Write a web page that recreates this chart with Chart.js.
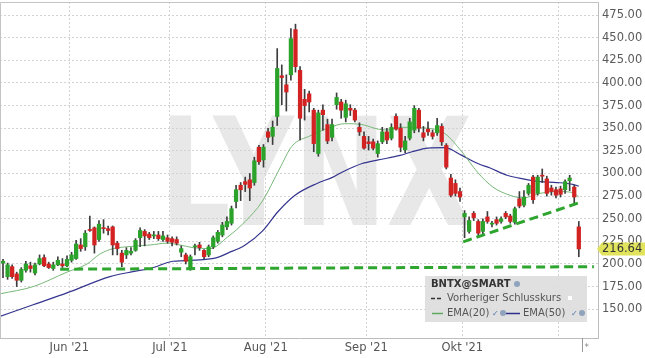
<!DOCTYPE html>
<html>
<head>
<meta charset="utf-8">
<title>BNTX@SMART</title>
<script src="https://cdn.jsdelivr.net/npm/chart.js@4.4.1/dist/chart.umd.min.js"></script>
<style>
    html, body { margin: 0; padding: 0; background: #fff; }
    #wrap { width: 645px; height: 358px; }
</style>
</head>
<body>
<div id="wrap"><canvas id="grafico" width="645" height="358"></canvas></div>
<script>
// Tageskerzen BNTX, Index 0 = 10.05.2021 ... 126 = 05.11.2021
const opens = [201,186,197,189,182,193,198,190,200,207,200,195,199,200,198,204,206,221,219,238,
    240,227,240,239,241,223,212,210,212,215,229,236,233,231,232,227,229,228,227,213,
    210,194,219,221,215,210,219,225,232,241,245,269,287,291,293,290,329,315,346,341,
    363,408,398,409,459,414,382,388,370,322,370,354,340,376,379,362,372,370,351,341,
    335,335,322,335,346,339,363,350,326,339,348,370,345,349,345,345,352,331,295,289,
    280,252,236,256,247,236,252,244,249,247,256,253,246,272,265,278,296,278,298,294,
    284,282,283,282,292,285,241];
const highs = [205,201,199,191,196,203,202,201,210,210,202,202,208,206,209,213,226,228,237,253,
    241,248,249,242,242,225,215,218,218,228,240,238,235,236,236,236,232,230,230,220,
    212,210,222,224,216,221,231,237,246,252,264,287,290,296,300,318,331,332,350,358,
    438,420,409,460,465,418,393,391,372,370,376,360,360,389,382,381,376,372,356,346,
    341,338,336,351,350,355,366,355,341,361,375,372,352,357,348,361,355,333,299,293,
    284,259,252,258,249,250,258,247,252,252,258,255,263,280,281,289,298,298,305,297,
    287,285,286,293,298,287,247];
const lows = [185,183,184,175,180,191,191,188,199,197,195,193,198,196,197,202,205,214,215,236,
    212,225,234,232,210,210,197,206,210,214,219,220,227,228,226,225,223,220,221,208,
    200,193,210,215,206,208,217,223,230,238,243,262,270,280,270,287,310,307,335,332,
    353,376,369,403,412,337,359,368,324,319,348,333,336,371,361,357,364,357,342,327,
    326,326,318,333,333,337,348,324,323,337,345,346,336,342,338,342,331,305,274,275,
    269,229,234,248,231,233,245,241,243,245,250,245,244,262,263,276,267,276,290,275,
    276,273,274,278,281,265,208];
const closes = [203,199,186,182,194,200,195,199,206,198,196,199,204,198,205,210,222,217,234,237,
    221,244,239,237,221,217,202,215,214,226,237,231,229,231.5,228,231,225,224,223,217,
    203,208,220,218,208,219,229,235,243,247,261,282,282,288,284,314,313,329,340,351,
    416,406,390,449,418,361,375,379,333,367,365,336,354,384,370,377,370,359,346,328,
    333,328,333,346,337,351,349,329,336,357,372,350,340,346,341,353,335,307,276,278,
    274,256,248,251,234,247,247,245,245,250,252,247,261,264,274,287,271,296,297,278,
    280,276,277,291,295,274,216.64];

// EMA-Linien (Kerzen-Index, Kurs)
const ema20Idx = [-0.66, 6.6, 14, 18.4, 21.2, 24.1, 27.1, 32.2, 35.9, 38.7, 41.6, 45.3, 49.2, 53, 56.7,
    60.6, 63.2, 67.4, 71.1, 74.8, 78.6, 82.1, 84.2, 86.9, 93, 96.7, 100.4, 103.9, 107.2, 110.9,
    113.8, 117.5, 121.2, 124.7, 126];
const ema20 = [167, 175, 191, 200, 211, 217, 219, 221, 223, 221, 218, 217, 230, 247, 269,
    306, 330, 342, 350, 355, 354, 349, 348, 351, 350, 344, 324, 301, 285, 276,
    273, 278, 280, 279, 274];
const ema50Idx = [-0.66, 6.6, 14, 23.4, 28.4, 32.2, 37.2, 43.1, 46.8, 49.2, 53, 56.7, 60.2, 63.9,
    68.7, 72.2, 74.4, 78.6, 82.1, 86.9, 89.5, 93, 96.7, 100.4, 103.9, 106.6, 110.3, 113.8,
    117.5, 121.2, 124.7, 126];
const ema50 = [142, 155, 168, 186, 191.5, 195, 203, 204.5, 207, 212, 221, 236, 258, 276,
    289, 296, 302, 311, 315, 320, 324, 328, 328.5, 320, 311, 306, 298, 294,
    291, 290, 288, 286];

// gezeichnete Unterstützungslinien
const supportIdx = [12.5, 129.3];
const supportVals = [194.2, 197];
const trendIdx = [100.7, 126.7];
const trendVals = [224.5, 268.8];

const yTicks = [150, 175, 200, 225, 250, 275, 300, 325, 350, 375, 400, 425, 450, 475];
const xTickPos = [14.5, 36.5, 57.5, 79.5, 100.5, 121.5];
const xTickLabels = ["Jun '21", "Jul '21", "Aug '21", "Sep '21", "Okt '21", ""];
const lastPrice = 216.64;
const endMarkIdx = 126.6;

(function () {
    const canvas = document.getElementById('grafico');
    if (!canvas || typeof Chart === 'undefined') {
        return;
    }

    const GRUEN = '#2ba32b';
    const ROT = '#d32222';
    const FONT = '"DejaVu Sans", sans-serif';

    const idx = opens.map(function (_, i) { return i; });
    const dochte = idx.map(function (i) { return { x: i, y: [lows[i], highs[i]] }; });
    const koerper = idx.map(function (i) { return { x: i, y: [opens[i], closes[i]] }; });
    const paare = function (xs, ys) {
        return xs.map(function (x, i) { return { x: x, y: ys[i] }; });
    };

    const hintergrund = {
        id: 'hintergrund',
        beforeDraw: function (chart) {
            const ctx = chart.ctx;
            ctx.save();
            ctx.fillStyle = '#fff';
            ctx.fillRect(0, 0, chart.width, chart.height);
            ctx.font = 'bold 150px ' + FONT;
            const w = ctx.measureText('LYNX').width;
            ctx.fillStyle = '#e8e8e8';
            ctx.translate(160, 225);
            ctx.scale(312 / w, 1);
            ctx.fillText('LYNX', 0, 0);
            ctx.restore();
        }
    };

    function globus(ctx, x, y) {
        ctx.beginPath();
        ctx.arc(x, y, 3, 0, Math.PI * 2);
        ctx.fillStyle = '#8fa3bd';
        ctx.fill();
    }

    const extras = {
        id: 'extras',
        afterDraw: function (chart) {
            const ctx = chart.ctx;
            const a = chart.chartArea;
            const sx = chart.scales.x;
            const sy = chart.scales.y;
            ctx.save();

            // Rahmen oben/links
            ctx.strokeStyle = '#c4c4c4';
            ctx.lineWidth = 1;
            ctx.beginPath();
            ctx.moveTo(a.left + 0.5, a.bottom);
            ctx.lineTo(a.left + 0.5, a.top + 0.5);
            ctx.lineTo(a.right, a.top + 0.5);
            ctx.stroke();

            // Endmarke unter der Achse
            const mx = Math.round(sx.getPixelForValue(endMarkIdx)) + 0.5;
            ctx.strokeStyle = '#999';
            ctx.beginPath();
            ctx.moveTo(mx, a.bottom);
            ctx.lineTo(mx, a.bottom + 14);
            ctx.stroke();
            ctx.fillStyle = '#888';
            ctx.font = '9px ' + FONT;
            ctx.textBaseline = 'middle';
            ctx.fillText('*', mx + 2, a.bottom + 10);

            // Kursmarke rechts
            const py = sy.getPixelForValue(lastPrice);
            ctx.fillStyle = '#e0e35b';
            ctx.beginPath();
            ctx.moveTo(a.right - 1, py);
            ctx.lineTo(a.right + 4, py - 6.5);
            ctx.lineTo(chart.width, py - 6.5);
            ctx.lineTo(chart.width, py + 6.5);
            ctx.lineTo(a.right + 4, py + 6.5);
            ctx.closePath();
            ctx.fill();
            ctx.fillStyle = '#333';
            ctx.font = '11.5px ' + FONT;
            ctx.fillText(lastPrice.toFixed(2), a.right + 4, py + 0.5);

            // Legende
            ctx.fillStyle = 'rgba(222,222,222,0.93)';
            ctx.fillRect(425, 276, 162, 46);
            ctx.textBaseline = 'middle';
            ctx.font = 'bold 10px ' + FONT;
            ctx.fillStyle = '#333';
            ctx.fillText('BNTX@SMART', 431, 284.5);
            globus(ctx, 517, 284);

            ctx.strokeStyle = '#333';
            ctx.lineWidth = 1.5;
            ctx.setLineDash([4, 2]);
            ctx.beginPath();
            ctx.moveTo(431, 298.5);
            ctx.lineTo(443, 298.5);
            ctx.stroke();
            ctx.setLineDash([]);
            ctx.font = '10px ' + FONT;
            ctx.fillStyle = '#555';
            ctx.fillText('Vorheriger Schlusskurs', 447, 298.5);
            ctx.fillStyle = '#fff';
            ctx.fillRect(568, 296, 4, 4);

            ctx.strokeStyle = '#5faa5f';
            ctx.beginPath();
            ctx.moveTo(432, 313.5);
            ctx.lineTo(443, 313.5);
            ctx.stroke();
            ctx.fillStyle = '#555';
            ctx.fillText('EMA(20)', 447, 313.5);
            ctx.fillStyle = '#4f74a8';
            ctx.font = '8px ' + FONT;
            ctx.fillText('\u2713', 492, 314);
            globus(ctx, 503, 313);
            ctx.strokeStyle = '#2f2f8c';
            ctx.beginPath();
            ctx.moveTo(506, 313.5);
            ctx.lineTo(520, 313.5);
            ctx.stroke();
            ctx.font = '10px ' + FONT;
            ctx.fillStyle = '#555';
            ctx.fillText('EMA(50)', 523, 313.5);
            ctx.fillStyle = '#4f74a8';
            ctx.font = '8px ' + FONT;
            ctx.fillText('\u2713', 571, 314);
            globus(ctx, 582, 313);

            ctx.restore();
        }
    };

    new Chart(canvas, {
        type: 'bar',
        data: {
            datasets: [{
                label: 'Unterstuetzung',
                type: 'line',
                data: paare(supportIdx, supportVals),
                borderColor: '#2ea52e',
                borderWidth: 3,
                borderDash: [9, 5],
                pointRadius: 0,
                order: 0
            }, {
                label: 'Trend',
                type: 'line',
                data: paare(trendIdx, trendVals),
                borderColor: '#2ea52e',
                borderWidth: 3,
                borderDash: [9, 5],
                pointRadius: 0,
                order: 0
            }, {
                label: 'Koerper',
                data: koerper,
                backgroundColor: function (c) {
                    const i = c.dataIndex;
                    return closes[i] >= opens[i] ? GRUEN : ROT;
                },
                barThickness: 3.6,
                minBarLength: 1,
                grouped: false,
                order: 1
            }, {
                label: 'Docht',
                data: dochte,
                backgroundColor: '#3d3d3d',
                barThickness: 1,
                grouped: false,
                order: 2
            }, {
                label: 'EMA(20)',
                type: 'line',
                data: paare(ema20Idx, ema20),
                borderColor: '#78b878',
                borderWidth: 1,
                pointRadius: 0,
                cubicInterpolationMode: 'monotone',
                order: 3
            }, {
                label: 'EMA(50)',
                type: 'line',
                data: paare(ema50Idx, ema50),
                borderColor: '#35358f',
                borderWidth: 1.2,
                pointRadius: 0,
                cubicInterpolationMode: 'monotone',
                order: 3
            }]
        },
        options: {
            responsive: false,
            animation: false,
            devicePixelRatio: 1,
            layout: { padding: { top: 2, left: 0, right: 0, bottom: 0 } },
            plugins: {
                legend: { display: false },
                tooltip: { enabled: false }
            },
            scales: {
                x: {
                    type: 'linear',
                    offset: false,
                    min: -0.66,
                    max: 130.2,
                    grid: { color: '#d2d2d2', drawTicks: false, offset: false },
                    border: { color: '#bdbdbd', dash: [2, 2] },
                    ticks: {
                        autoSkip: false,
                        maxRotation: 0,
                        padding: 3,
                        color: '#555',
                        font: { family: FONT, size: 11.5 },
                        callback: function (v, i) { return xTickLabels[i]; }
                    },
                    afterBuildTicks: function (s) {
                        s.ticks = xTickPos.map(function (v) { return { value: v }; });
                    },
                    afterFit: function (s) {
                        s.height = 20;
                        s.paddingLeft = 0;
                        s.paddingRight = 0;
                    }
                },
                y: {
                    position: 'right',
                    min: 118.2,
                    max: 489.5,
                    grid: { color: '#d2d2d2', drawTicks: false },
                    border: { color: '#bdbdbd', dash: [2, 2] },
                    ticks: {
                        padding: 4,
                        color: '#5a5a5a',
                        font: { family: FONT, size: 11.5 },
                        callback: function (v) { return Number(v).toFixed(2); }
                    },
                    afterBuildTicks: function (s) {
                        s.ticks = yTicks.map(function (v) { return { value: v }; });
                    },
                    afterFit: function (s) {
                        s.width = 47;
                        s.paddingTop = 0;
                        s.paddingBottom = 0;
                    }
                }
            }
        },
        plugins: [hintergrund, extras]
    });
})();
</script>
</body>
</html>
